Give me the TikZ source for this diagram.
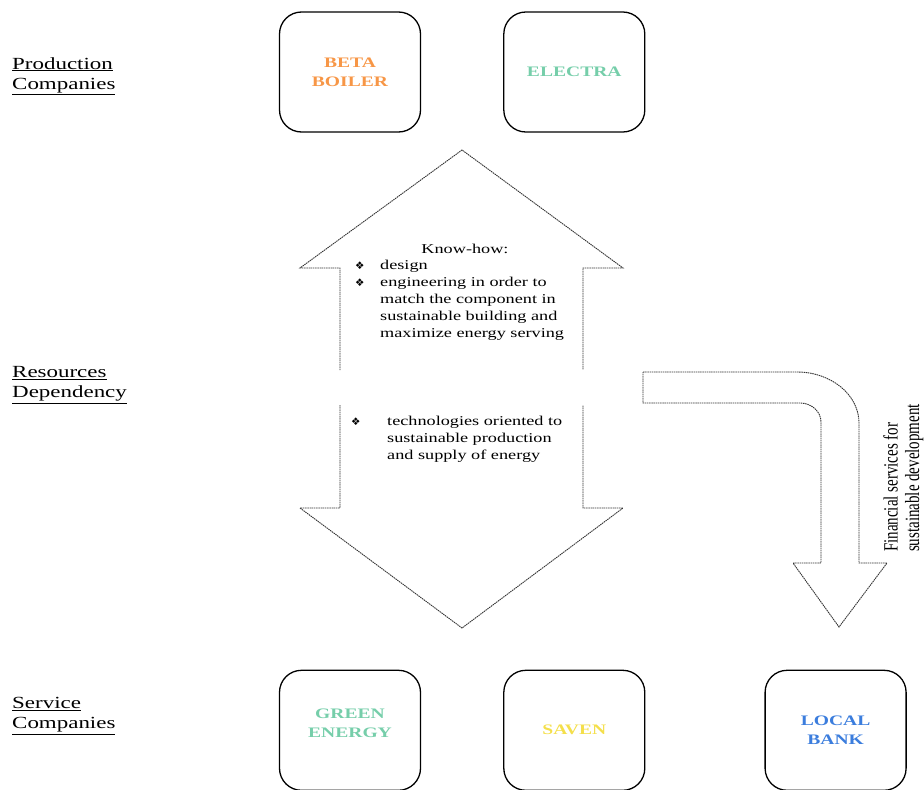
\documentclass[tikz,border=0pt]{standalone}
\usepackage{fontspec}
\setmainfont[FakeStretch=1.35]{Liberation Serif}
\newfontfamily\plainrm{Liberation Serif}
\newfontfamily\symfont{DejaVu Sans}
\usepackage{xcolor}
\usetikzlibrary{positioning}
\definecolor{betaorange}{RGB}{247,150,70}
\definecolor{mint}{RGB}{118,206,170}
\definecolor{savyellow}{RGB}{244,223,75}
\definecolor{bankblue}{RGB}{59,125,221}
\newcommand{\bul}{{\symfont\fontsize{10.5}{10}\selectfont ❖}}

\begin{document}
\begin{tikzpicture}[x=1pt,y=-1pt]
    \tikzset{Company/.style={rectangle, draw, line width=1.3pt, rounded corners=22pt, minimum width=141pt, minimum height=120pt, align=center, font=\bfseries\fontsize{14.5}{19}\selectfont}};
    \tikzset{Side/.style={anchor=west, inner sep=0pt, align=left, font=\fontsize{17}{20}\selectfont}};
    \tikzset{List/.style={anchor=north west, inner sep=0pt, align=left, font=\fontsize{13.5}{17}\selectfont}};
    \tikzset{Flow/.style={draw=black!80, line width=0.9pt, dash pattern=on 1.5pt off 0.7pt}};
    \useasboundingbox (0,0) rectangle (924,790);
    % companies
    \node[Company, text=betaorange] (beta) at (350,72) {BETA\\BOILER};
    \node[Company, text=mint][right=82pt of beta] (electra) {ELECTRA};
    \node[Company, text=mint][below=537pt of beta] (green) {GREEN\\ENERGY\\[-5pt]\mbox{}};
    \node[Company, text=savyellow][right=82pt of green] (saven) {SAVEN};
    \node[Company, text=bankblue][right=119pt of saven] (bank) {LOCAL\\BANK};
    % levels
    \node[Side] (prod) at (12,76) {\underline{Production}\\\underline{Companies}};
    \node[Side] (res) at (12,385) {\underline{Resources}\\\underline{Dependency}};
    \node[Side] (serv) at (12,716) {\underline{Service}\\\underline{Companies}};
    % double arrow
    \draw[Flow] (340,370) -- (340,268) -- (300,268) -- (462,150) -- (623,268) -- (583,268) -- (583,370);
    \draw[Flow] (340,405) -- (340,508) -- (300,508) -- (462,628) -- (623,508) -- (583,508) -- (583,405);
    \node[font=\fontsize{13.5}{17}\selectfont] (know) at (465,249) {Know-how:};
    \node[List] (design) at (355,260) {\makebox[25pt][l]{\bul}design\\
    \makebox[25pt][l]{\bul}engineering in order to\\
    \hspace*{25pt}match the component in\\
    \hspace*{25pt}sustainable building and\\
    \hspace*{25pt}maximize energy serving};
    \node[List] (tech) at (351,416) {\makebox[36pt][l]{\bul}technologies oriented to\\
    \hspace*{36pt}sustainable production\\
    \hspace*{36pt}and supply of energy};
    % bent arrow
    \draw[Flow] (643,372) -- (797,372) arc[start angle=270, end angle=360, x radius=62, y radius=51]
      -- (859,563) -- (887,563) -- (839,627) -- (793,563) -- (821,563) -- (821,422)
      arc[start angle=0, end angle=-90, x radius=21, y radius=19] -- (643,403) -- cycle;
    \node (fin) at (904,478) {\scalebox{1.35}[1]{\rotatebox{90}{\plainrm\fontsize{15}{16}\selectfont\begin{tabular}{@{}l@{}}Financial services for\\ sustainable development\end{tabular}}}};
\end{tikzpicture}
\end{document}
